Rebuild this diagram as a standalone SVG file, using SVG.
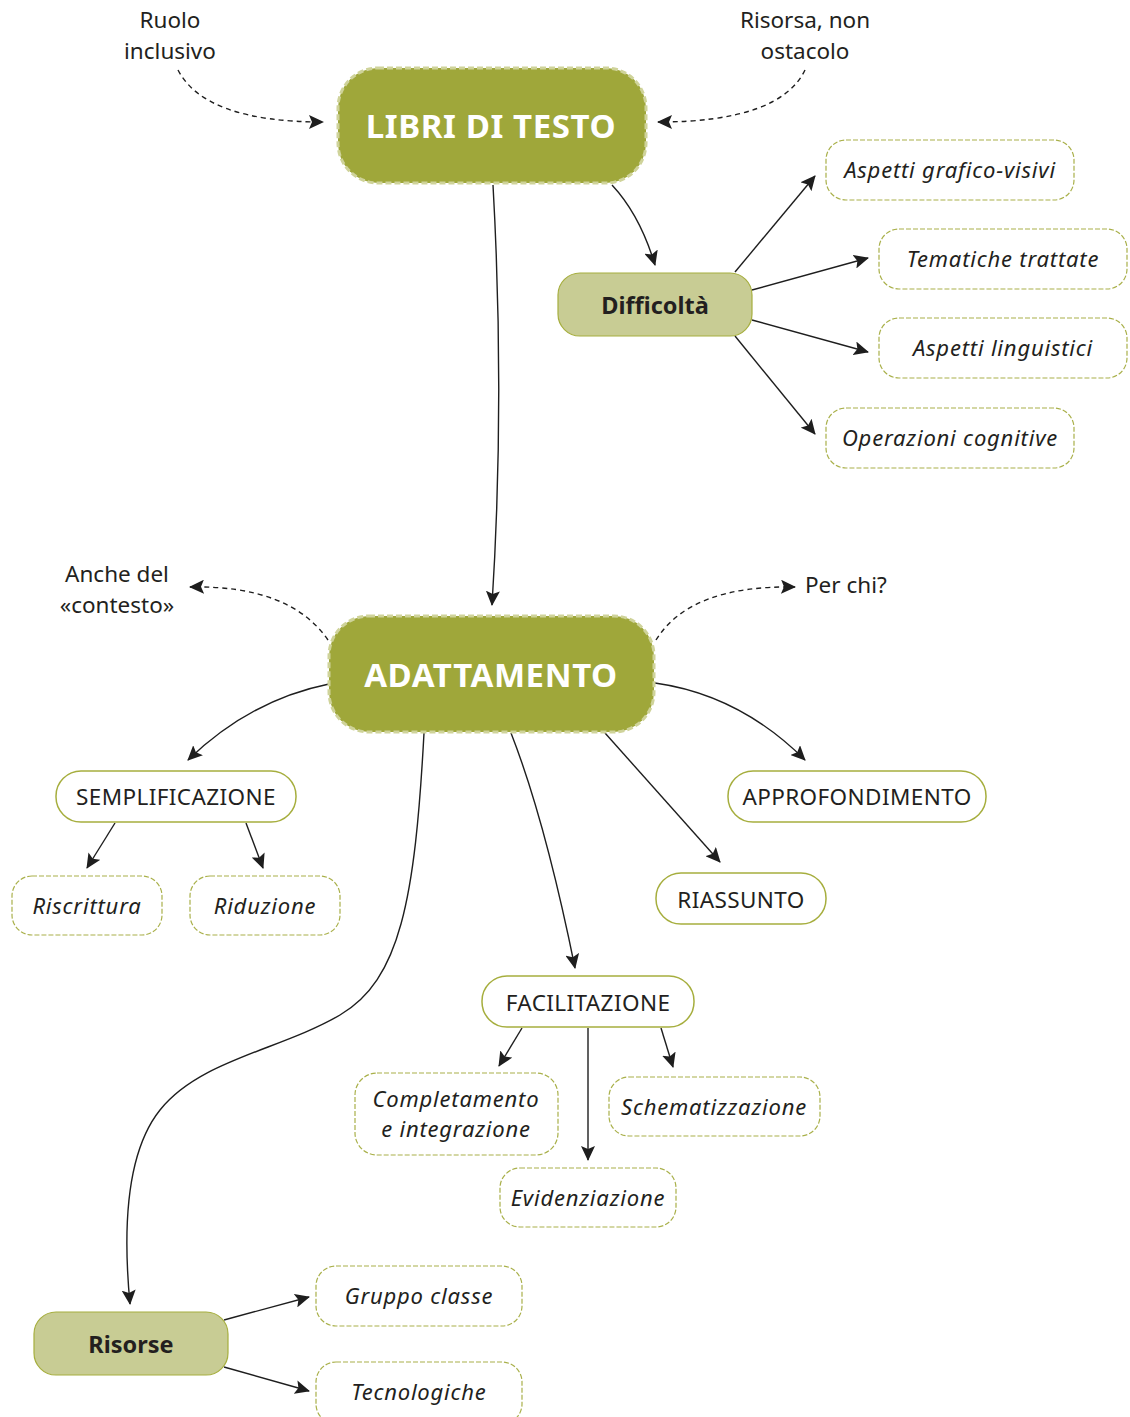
<svg xmlns="http://www.w3.org/2000/svg" width="1130" height="1417" viewBox="0 0 1130 1417">
<defs>
<marker id="ah" markerUnits="userSpaceOnUse" markerWidth="16" markerHeight="14" refX="14" refY="7" orient="auto">
<path d="M0,0 L15,7 L0,14 L3,7 Z" fill="#1e1e1e"/>
</marker>
<style>
text{font-family:"Noto Sans","Open Sans","Liberation Sans",sans-serif;fill:#231f20;text-anchor:middle}
.main rect{fill:#9fa73a;stroke:#cfd39a;stroke-width:3;stroke-dasharray:6,3}
.main text{fill:#fff;font-weight:bold;font-size:33px;letter-spacing:0.6px}
.sub rect{fill:#c8cc94;stroke:#a6ae3e;stroke-width:1.2}
.sub text{font-weight:bold;font-size:23.5px}
.cap rect{fill:#fff;stroke:#a6ae3e;stroke-width:1.5}
.cap text{font-size:22.5px;letter-spacing:0.4px}
.it rect{fill:#fff;stroke:#a9b04a;stroke-width:1.2;stroke-dasharray:5,2}
.it text{font-style:italic;font-size:22px;letter-spacing:0.8px}
.lbl{font-size:22.5px}
.c path{fill:none;stroke:#1e1e1e;stroke-width:1.4;marker-end:url(#ah)}
.c path.d{stroke-dasharray:5,4}
</style>
</defs>
<rect width="1130" height="1417" fill="#fff"/>

<g id="labels">
<text class="lbl" x="170" y="28">Ruolo</text>
<text class="lbl" x="170" y="59">inclusivo</text>
<text class="lbl" x="805" y="28">Risorsa, non</text>
<text class="lbl" x="805" y="59">ostacolo</text>
<text class="lbl" x="117" y="582">Anche del</text>
<text class="lbl" x="117" y="613">«contesto»</text>
<text class="lbl" x="805" y="593" style="text-anchor:start">Per chi?</text>
</g>

<g class="c" id="connectors">
<path class="d" d="M178,70 Q205,122 323,122"/>
<path class="d" d="M805,70 Q780,122 658,122"/>
<path class="d" d="M328,640 Q290,585 190,587"/>
<path class="d" d="M656,640 Q690,585 795,587"/>
<path d="M493,185 Q505,400 492,605"/>
<path d="M612,185 Q640,215 655,265"/>
<path d="M735,272 L815,176"/>
<path d="M752,290 L868,258"/>
<path d="M752,320 L868,352"/>
<path d="M735,336 L815,434"/>
<path d="M329,684 Q250,700 188,760"/>
<path d="M655,683 Q740,695 805,760"/>
<path d="M605,733 L720,862"/>
<path d="M511,733 Q545,820 575,968"/>
<path d="M424,733 C415,900 400,980 340,1015 C280,1050 200,1060 160,1110 C128,1150 122,1220 130,1304"/>
<path d="M115,823 L87,868"/>
<path d="M246,823 L263,868"/>
<path d="M522,1028 L499,1066"/>
<path d="M588,1028 L588,1160"/>
<path d="M661,1028 L673,1067"/>
<path d="M224,1320 L309,1297"/>
<path d="M224,1367 L309,1391"/>
</g>

<g id="libri" class="main"><rect x="338" y="68" width="308" height="115" rx="40"/><text x="491" y="138">LIBRI DI TESTO</text></g>
<g id="adattamento" class="main"><rect x="329" y="616" width="325" height="116" rx="40"/><text x="491" y="687">ADATTAMENTO</text></g>

<g id="difficolta" class="sub"><rect x="558" y="273" width="194" height="63" rx="22"/><text x="655" y="314">Difficoltà</text></g>
<g id="risorse" class="sub"><rect x="34" y="1312" width="194" height="63" rx="22"/><text x="131" y="1353">Risorse</text></g>

<g id="grafico" class="it"><rect x="826" y="140" width="248" height="60" rx="20"/><text x="950" y="178">Aspetti grafico-visivi</text></g>
<g id="tematiche" class="it"><rect x="879" y="229" width="248" height="60" rx="20"/><text x="1003" y="267">Tematiche trattate</text></g>
<g id="linguistici" class="it"><rect x="879" y="318" width="248" height="60" rx="20"/><text x="1003" y="356">Aspetti linguistici</text></g>
<g id="cognitive" class="it"><rect x="826" y="408" width="248" height="60" rx="20"/><text x="950" y="446">Operazioni cognitive</text></g>

<g id="semplificazione" class="cap"><rect x="56" y="771" width="240" height="51" rx="25"/><text x="176" y="805">SEMPLIFICAZIONE</text></g>
<g id="approfondimento" class="cap"><rect x="728" y="771" width="258" height="51" rx="25"/><text x="857" y="805">APPROFONDIMENTO</text></g>
<g id="riassunto" class="cap"><rect x="656" y="873" width="170" height="51" rx="25"/><text x="741" y="908">RIASSUNTO</text></g>
<g id="facilitazione" class="cap"><rect x="482" y="976" width="212" height="51" rx="25"/><text x="588" y="1011">FACILITAZIONE</text></g>

<g id="riscrittura" class="it"><rect x="12" y="876" width="150" height="59" rx="20"/><text x="87" y="914">Riscrittura</text></g>
<g id="riduzione" class="it"><rect x="190" y="876" width="150" height="59" rx="20"/><text x="265" y="914">Riduzione</text></g>
<g id="completamento" class="it"><rect x="355" y="1073" width="203" height="82" rx="22"/><text x="456" y="1107">Completamento</text><text x="456" y="1137">e integrazione</text></g>
<g id="schematizzazione" class="it"><rect x="609" y="1077" width="211" height="59" rx="20"/><text x="714" y="1115">Schematizzazione</text></g>
<g id="evidenziazione" class="it"><rect x="500" y="1168" width="176" height="59" rx="20"/><text x="588" y="1206">Evidenziazione</text></g>
<g id="gruppo" class="it"><rect x="316" y="1266" width="206" height="60" rx="20"/><text x="419" y="1304">Gruppo classe</text></g>
<g id="tecnologiche" class="it"><rect x="316" y="1362" width="206" height="62" rx="20"/><text x="419" y="1400">Tecnologiche</text></g>
</svg>
